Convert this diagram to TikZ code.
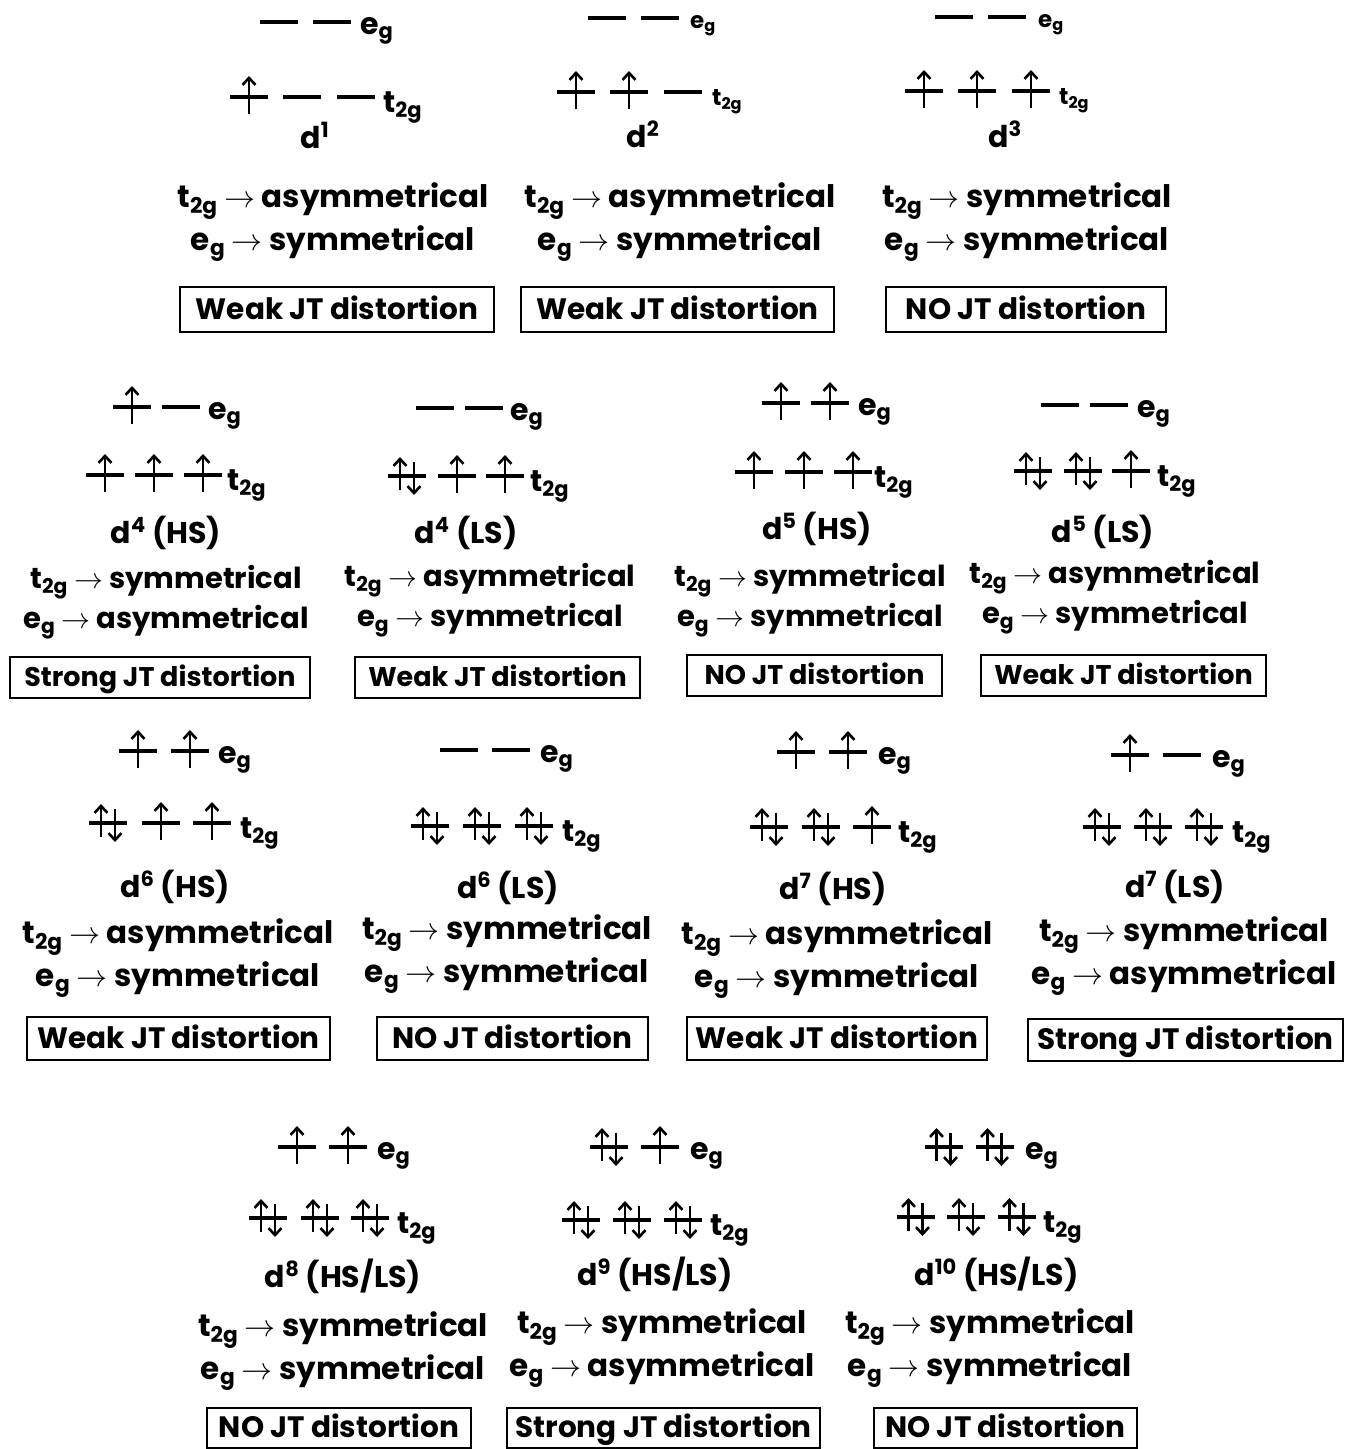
\RequirePackage{fix-cm}
\documentclass[tikz,border=0pt]{standalone}
\usepackage{fontspec}
\setmainfont{Poppins}
\usepackage{tikz}
\usetikzlibrary{arrows.meta}
\definecolor{jtink}{RGB}{0,0,0}
\tikzset{
  jtlevel/.style={draw=jtink, line width=4.5pt},
  jtspin/.style={draw=jtink, line width=2.6pt, -{Straight Barb[length=7pt,width=13pt]}},
  jtlab/.style={anchor=base west, inner sep=0pt, font=\bfseries\fontsize{30}{36}\selectfont},
  jtlabs/.style={anchor=base west, inner sep=0pt, font=\bfseries\fontsize{23}{28}\selectfont},
  jtname/.style={anchor=base, inner sep=0pt, font=\bfseries\fontsize{30}{36}\selectfont},
  jttxt/.style={align=center, inner sep=0pt, font=\bfseries\fontsize{31}{43}\selectfont},
  jttxts/.style={jttxt, font=\bfseries\fontsize{29}{40}\selectfont},
  jtbox/.style={draw=jtink, line width=2pt, inner sep=0pt, text height=22pt, text depth=3pt, font=\bfseries\fontsize{29.5}{32}\selectfont},
  jtboxs/.style={jtbox, text height=21pt, text depth=3pt, font=\bfseries\fontsize{27}{30}\selectfont},
  pics/jtorb/.style={code={\draw[jtlevel] (-19,0) -- (19,0);}},
  pics/jtup/.style={code={\draw[jtlevel] (-19,0) -- (19,0); \draw[jtspin] (0,17) -- (0,-21);}},
  pics/jtpair/.style={code={\draw[jtlevel] (-19,0) -- (19,0); \draw[jtspin] (-7,14) -- (-7,-19); \draw[jtspin] (7,-14) -- (7,19);}}
}
\newcommand{\jtasym}{asymmetrical}
\newcommand{\jtsym}{symmetrical}
\newcommand{\jtt}{t\textsubscript{2g}}
\newcommand{\jte}{e\textsubscript{g}}
\begin{document}
\begin{tikzpicture}[x=1pt, y=-1pt]
  \useasboundingbox (0,0) rectangle (1354,1449);

  \pic at (279,22) {jtorb};
  \pic at (332,22) {jtorb};
  \node[jtlab] (eg1) at (360,34) {\jte};
  \pic at (249,97) {jtup};
  \pic at (302,97) {jtorb};
  \pic at (356,97) {jtorb};
  \node[jtlab] (tg1) at (383,112) {\jtt};
  \node[jtname] (d1) at (315,148) {d\textsuperscript{1}};
  \node[jttxt] (txt1) at (333,222) {\jtt{} $\rightarrow$ \jtasym\\\jte{} $\rightarrow$ \jtsym};
  \node[jtbox, minimum width=314pt, minimum height=45pt] (box1) at (337,309.5) {Weak JT distortion};

  \pic at (607,18) {jtorb};
  \pic at (660,18) {jtorb};
  \node[jtlabs] (eg2) at (690,28) {\jte};
  \pic at (576,92) {jtup};
  \pic at (629,92) {jtup};
  \pic at (683,92) {jtorb};
  \node[jtlabs] (tg2) at (712,105) {\jtt};
  \node[jtname] (d2) at (643,147) {d\textsuperscript{2}};
  \node[jttxt] (txt2) at (680,222) {\jtt{} $\rightarrow$ \jtasym\\\jte{} $\rightarrow$ \jtsym};
  \node[jtbox, minimum width=313pt, minimum height=45pt] (box2) at (677.5,309.5) {Weak JT distortion};

  \pic at (954,17) {jtorb};
  \pic at (1007,17) {jtorb};
  \node[jtlabs] (eg3) at (1038,27) {\jte};
  \pic at (924,91) {jtup};
  \pic at (977,91) {jtup};
  \pic at (1031,91) {jtup};
  \node[jtlabs] (tg3) at (1059,104) {\jtt};
  \node[jtname] (d3) at (1005,147) {d\textsuperscript{3}};
  \node[jttxt] (txt3) at (1027,222) {\jtt{} $\rightarrow$ \jtsym\\\jte{} $\rightarrow$ \jtsym};
  \node[jtbox, minimum width=280pt, minimum height=45pt] (box3) at (1026,309.5) {NO JT distortion};

  \pic at (132,407) {jtup};
  \pic at (181,407) {jtorb};
  \node[jtlab] (eg4) at (208,419) {\jte};
  \pic at (105,475) {jtup};
  \pic at (154,475) {jtup};
  \pic at (203,475) {jtup};
  \node[jtlab] (tg4) at (227,490) {\jtt};
  \node[jtname] (d4) at (166,543) {d\textsuperscript{4} (HS)};
  \node[jttxts] (txt4) at (166,602) {\jtt{} $\rightarrow$ \jtsym\\\jte{} $\rightarrow$ \jtasym};
  \node[jtboxs, minimum width=300pt, minimum height=41pt] (box4) at (160,677.5) {Strong JT distortion};

  \pic at (435,408) {jtorb};
  \pic at (484,408) {jtorb};
  \node[jtlab] (eg5) at (510,420) {\jte};
  \pic at (407,476) {jtpair};
  \pic at (457,476) {jtup};
  \pic at (505,476) {jtup};
  \node[jtlab] (tg5) at (530,491) {\jtt};
  \node[jtname] (d5) at (466,543) {d\textsuperscript{4} (LS)};
  \node[jttxts] (txt5) at (490,600) {\jtt{} $\rightarrow$ \jtasym\\\jte{} $\rightarrow$ \jtsym};
  \node[jtboxs, minimum width=285pt, minimum height=41pt] (box5) at (497.5,677.5) {Weak JT distortion};

  \pic at (781,403) {jtup};
  \pic at (830,403) {jtup};
  \node[jtlab] (eg6) at (858,415) {\jte};
  \pic at (754,472) {jtup};
  \pic at (804,472) {jtup};
  \pic at (853,472) {jtup};
  \node[jtlab] (tg6) at (874,487) {\jtt};
  \node[jtname] (d6) at (817,539) {d\textsuperscript{5} (HS)};
  \node[jttxts] (txt6) at (810,600) {\jtt{} $\rightarrow$ \jtsym\\\jte{} $\rightarrow$ \jtsym};
  \node[jtboxs, minimum width=255pt, minimum height=41pt] (box6) at (814.5,675.5) {NO JT distortion};

  \pic at (1060,405) {jtorb};
  \pic at (1109,405) {jtorb};
  \node[jtlab] (eg7) at (1137,417) {\jte};
  \pic at (1033,471) {jtpair};
  \pic at (1083,471) {jtpair};
  \pic at (1131,471) {jtup};
  \node[jtlab] (tg7) at (1157,486) {\jtt};
  \node[jtname] (d7) at (1103,542) {d\textsuperscript{5} (LS)};
  \node[jttxts] (txt7) at (1115,597) {\jtt{} $\rightarrow$ \jtasym\\\jte{} $\rightarrow$ \jtsym};
  \node[jtboxs, minimum width=285pt, minimum height=41pt] (box7) at (1123.5,675.5) {Weak JT distortion};

  \pic at (138,751) {jtup};
  \pic at (190,751) {jtup};
  \node[jtlab] (eg8) at (218,763) {\jte};
  \pic at (108,823) {jtpair};
  \pic at (161,823) {jtup};
  \pic at (212,823) {jtup};
  \node[jtlab] (tg8) at (240,838) {\jtt};
  \node[jtname] (d8) at (175,897) {d\textsuperscript{6} (HS)};
  \node[jttxt] (txt8) at (178,958) {\jtt{} $\rightarrow$ \jtasym\\\jte{} $\rightarrow$ \jtsym};
  \node[jtbox, minimum width=303pt, minimum height=43pt] (box8) at (178.5,1038.5) {Weak JT distortion};

  \pic at (459,750) {jtorb};
  \pic at (511,750) {jtorb};
  \node[jtlab] (eg9) at (540,762) {\jte};
  \pic at (430,826) {jtpair};
  \pic at (482,826) {jtpair};
  \pic at (534,826) {jtpair};
  \node[jtlab] (tg9) at (562,841) {\jtt};
  \node[jtname] (d9) at (508,898) {d\textsuperscript{6} (LS)};
  \node[jttxt] (txt9) at (507,954) {\jtt{} $\rightarrow$ \jtsym\\\jte{} $\rightarrow$ \jtsym};
  \node[jtbox, minimum width=271pt, minimum height=43pt] (box9) at (512.5,1038.5) {NO JT distortion};

  \pic at (796,752) {jtup};
  \pic at (848,752) {jtup};
  \node[jtlab] (eg10) at (878,764) {\jte};
  \pic at (769,827) {jtpair};
  \pic at (821,827) {jtpair};
  \pic at (872,827) {jtup};
  \node[jtlab] (tg10) at (898,842) {\jtt};
  \node[jtname] (d10) at (833,899) {d\textsuperscript{7} (HS)};
  \node[jttxt] (txt10) at (837,959) {\jtt{} $\rightarrow$ \jtasym\\\jte{} $\rightarrow$ \jtsym};
  \node[jtbox, minimum width=300pt, minimum height=43pt] (box10) at (837,1038.5) {Weak JT distortion};

  \pic at (1130,755) {jtup};
  \pic at (1182,755) {jtorb};
  \node[jtlab] (eg11) at (1212,767) {\jte};
  \pic at (1102,827) {jtpair};
  \pic at (1153,827) {jtpair};
  \pic at (1204,827) {jtpair};
  \node[jtlab] (tg11) at (1232,842) {\jtt};
  \node[jtname] (d11) at (1175,897) {d\textsuperscript{7} (LS)};
  \node[jttxt] (txt11) at (1184,956) {\jtt{} $\rightarrow$ \jtsym\\\jte{} $\rightarrow$ \jtasym};
  \node[jtbox, minimum width=315pt, minimum height=42pt] (box11) at (1185.5,1040) {Strong JT distortion};

  \pic at (297,1147) {jtup};
  \pic at (348,1147) {jtup};
  \node[jtlab] (eg12) at (377,1159) {\jte};
  \pic at (268,1218) {jtpair};
  \pic at (320,1218) {jtpair};
  \pic at (370,1218) {jtpair};
  \node[jtlab] (tg12) at (397,1233) {\jtt};
  \node[jtname] (d12) at (343,1287) {d\textsuperscript{8} (HS/LS)};
  \node[jttxt] (txt12) at (343,1351) {\jtt{} $\rightarrow$ \jtsym\\\jte{} $\rightarrow$ \jtsym};
  \node[jtbox, minimum width=264pt, minimum height=40pt] (box12) at (339,1428) {NO JT distortion};

  \pic at (609,1147) {jtpair};
  \pic at (660,1147) {jtup};
  \node[jtlab] (eg13) at (690,1159) {\jte};
  \pic at (581,1220) {jtpair};
  \pic at (632,1220) {jtpair};
  \pic at (683,1220) {jtpair};
  \node[jtlab] (tg13) at (710,1235) {\jtt};
  \node[jtname] (d13) at (655,1285) {d\textsuperscript{9} (HS/LS)};
  \node[jttxt] (txt13) at (662,1348) {\jtt{} $\rightarrow$ \jtsym\\\jte{} $\rightarrow$ \jtasym};
  \node[jtbox, minimum width=313pt, minimum height=40pt] (box13) at (663.5,1428) {Strong JT distortion};

  \pic at (943.5,1147) {jtpair};
  \pic at (994.5,1147) {jtpair};
  \node[jtlab] (eg14) at (1025,1159) {\jte};
  \pic at (915.5,1217) {jtpair};
  \pic at (966,1217) {jtpair};
  \pic at (1016.5,1217) {jtpair};
  \node[jtlab] (tg14) at (1043,1232) {\jtt};
  \node[jtname] (d14) at (996.5,1285) {d\textsuperscript{10} (HS/LS)};
  \node[jttxt] (txt14) at (990,1348) {\jtt{} $\rightarrow$ \jtsym\\\jte{} $\rightarrow$ \jtsym};
  \node[jtbox, minimum width=263pt, minimum height=40pt] (box14) at (1005.5,1428) {NO JT distortion};
\end{tikzpicture}
\end{document}
